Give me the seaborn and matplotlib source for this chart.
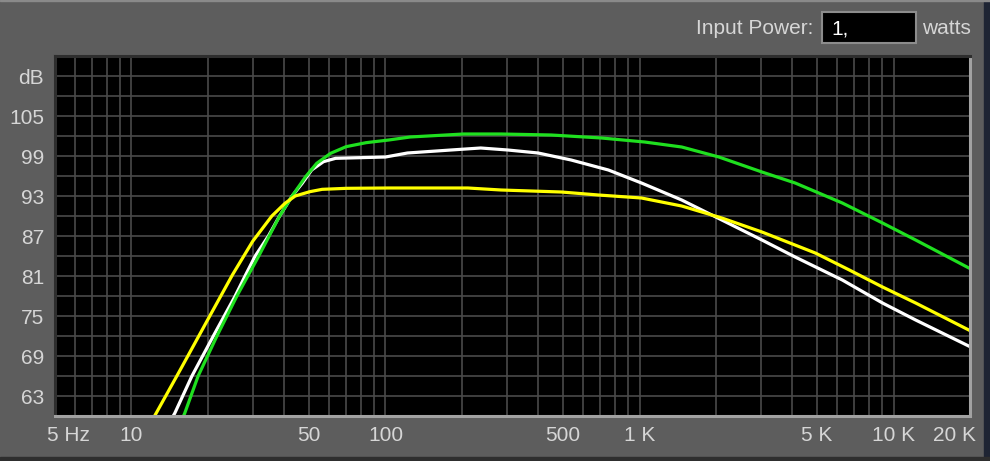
import numpy as np
import pandas as pd
import seaborn as sns
import matplotlib.pyplot as plt
import matplotlib.transforms as mtransforms
from matplotlib.patches import Rectangle
from matplotlib.ticker import FixedLocator, NullFormatter

# Frequency response curves (Hz, dB)
green_freq = [15.6, 16.2, 18.3, 21.7, 26.0, 31.7, 38.3, 42.9, 48.5, 53.6, 60.8, 70, 83.9, 103, 125, 203, 285,
              449, 708, 1047, 1466, 2053, 3034, 4100, 6286, 9050, 12220, 20500]
green_db = [59.0, 60.4, 66.0, 72.0, 78.0, 84.0, 90.0, 93.0, 95.9, 97.9, 99.4, 100.4, 101.0, 101.4, 101.85, 102.3, 102.3,
            102.15, 101.7, 101.1, 100.35, 98.85, 96.6, 94.95, 91.95, 88.95, 86.4, 81.9]

white_freq = [14.1, 14.8, 17.3, 21.0, 25.6, 28.0, 30.7, 34.6, 38.3, 42.9, 47.0, 51.2, 57.0, 63.6, 100, 122, 181, 237, 303,
              399, 538, 754, 1018, 1466, 2109, 3034, 4100, 6286, 9050, 12220, 20500]
white_db = [59.0, 60.4, 66.0, 72.0, 78.0, 81.0, 84.0, 87.0, 90.0, 93.0, 94.9, 96.9, 98.15, 98.65, 98.85, 99.45, 99.9, 100.2, 99.9,
            99.45, 98.4, 96.9, 94.95, 92.4, 89.4, 86.4, 83.85, 80.4, 76.95, 74.4, 70.2]

yellow_freq = [12.0, 12.5, 15.6, 20.0, 25.0, 30.0, 35.7, 40.2, 44.1, 50.4, 56.3, 70, 103, 211, 285,
               492, 689, 1018, 1466, 2109, 3034, 4921, 6700, 9050, 12220, 20500]
yellow_db = [59.2, 60.4, 67.0, 74.5, 81.2, 86.2, 90.0, 91.9, 93.0, 93.65, 94.0, 94.15, 94.2, 94.2, 93.9,
             93.6, 93.15, 92.7, 91.5, 89.7, 87.6, 84.45, 81.9, 79.35, 76.95, 72.6]

# Axis ticks
x_ticks = [5, 10, 50, 100, 500, 1000, 5000, 10000, 20000]
x_labels = ['5 Hz', '10', '50', '100', '500', '1 K', '5 K', '10 K', '20 K']
y_ticks = [63, 69, 75, 81, 87, 93, 99, 105, 111]
y_labels = ['63', '69', '75', '81', '87', '93', '99', '105', 'dB']

bg = '#5d5d5d'
txt = '#d6d6d6'

sns.set_theme(style='dark', rc={'axes.facecolor': 'black', 'figure.facecolor': bg})
plt.rcParams['font.family'] = ['Liberation Sans', 'DejaVu Sans']

W, H = 990, 461
fig = plt.figure(figsize=(W / 100, H / 100), dpi=100)
ax = fig.add_axes([55 / W, 1 - 416 / H, (970 - 55) / W, (416 - 56) / H])

# draw curves (white first, then green, then yellow on top)
sns.lineplot(x=white_freq, y=white_db, ax=ax, color='white', linewidth=2.3, estimator=None, sort=False)
sns.lineplot(x=green_freq, y=green_db, ax=ax, color='#1fe01f', linewidth=2.3, estimator=None, sort=False)
sns.lineplot(x=yellow_freq, y=yellow_db, ax=ax, color='#ffff00', linewidth=2.3, estimator=None, sort=False)

ax.set_xscale('log')
ax.set_xlim(5, 20000)
ax.set_ylim(60, 114)

# grid: every 1..9 x 10^n on x, every 3 dB on y
minor_x = [m * 10 ** e for e in range(0, 5) for m in range(1, 10)]
minor_x = [v for v in minor_x if 5 < v <= 20000]
ax.xaxis.set_major_locator(FixedLocator(x_ticks))
ax.set_xticklabels(x_labels)
ax.xaxis.set_minor_locator(FixedLocator(minor_x))
ax.xaxis.set_minor_formatter(NullFormatter())
ax.set_yticks(y_ticks)
ax.set_yticklabels(y_labels)
ax.set_yticks(np.arange(60, 115, 3), minor=True)
ax.grid(True, which='both', color='#4a4a4a', linewidth=1.2)
ax.set_axisbelow(True)
ax.tick_params(which='both', length=0, colors=txt, labelsize=15)
ax.tick_params(axis='x', pad=7)
ax.tick_params(axis='y', pad=8)
ax.set_xlabel('')
ax.set_ylabel('')

# nudge the edge labels inward like the original
xl = ax.get_xticklabels()
xl[0].set_transform(xl[0].get_transform() + mtransforms.ScaledTranslation(13 / 100, 0, fig.dpi_scale_trans))
xl[-1].set_transform(xl[-1].get_transform() + mtransforms.ScaledTranslation(-15 / 100, 0, fig.dpi_scale_trans))

# sunken bevel frame
for side in ['top', 'left']:
    ax.spines[side].set_color('#2e2e2e')
    ax.spines[side].set_linewidth(2.2)
for side in ['bottom', 'right']:
    ax.spines[side].set_color('#a2a2a2')
    ax.spines[side].set_linewidth(2.2)

# top-right input box
fig.text(813 / W, 1 - 28 / H, 'Input Power:', ha='right', va='center', color=txt, fontsize=15)
fig.patches.append(Rectangle((822 / W, 1 - 43 / H), 94 / W, 31 / H, transform=fig.transFigure,
                             facecolor='black', edgecolor='#8c8c8c', linewidth=1.5))
fig.text(831 / W, 1 - 29 / H, '1,', ha='left', va='center', color='white', fontsize=15)
fig.text(922 / W, 1 - 28 / H, 'watts', ha='left', va='center', color=txt, fontsize=15)

# window edges
fig.patches.append(Rectangle((984 / W, 0), 6 / W, 1, transform=fig.transFigure, color='#1e2433'))
fig.patches.append(Rectangle((0, 0), 1, 4 / H, transform=fig.transFigure, color='#2e2e2e'))
fig.patches.append(Rectangle((0, 1 - 1.5 / H), 1, 1.5 / H, transform=fig.transFigure, color='#8a8a8a'))

fig.savefig('out.png', dpi=100, facecolor=bg)
